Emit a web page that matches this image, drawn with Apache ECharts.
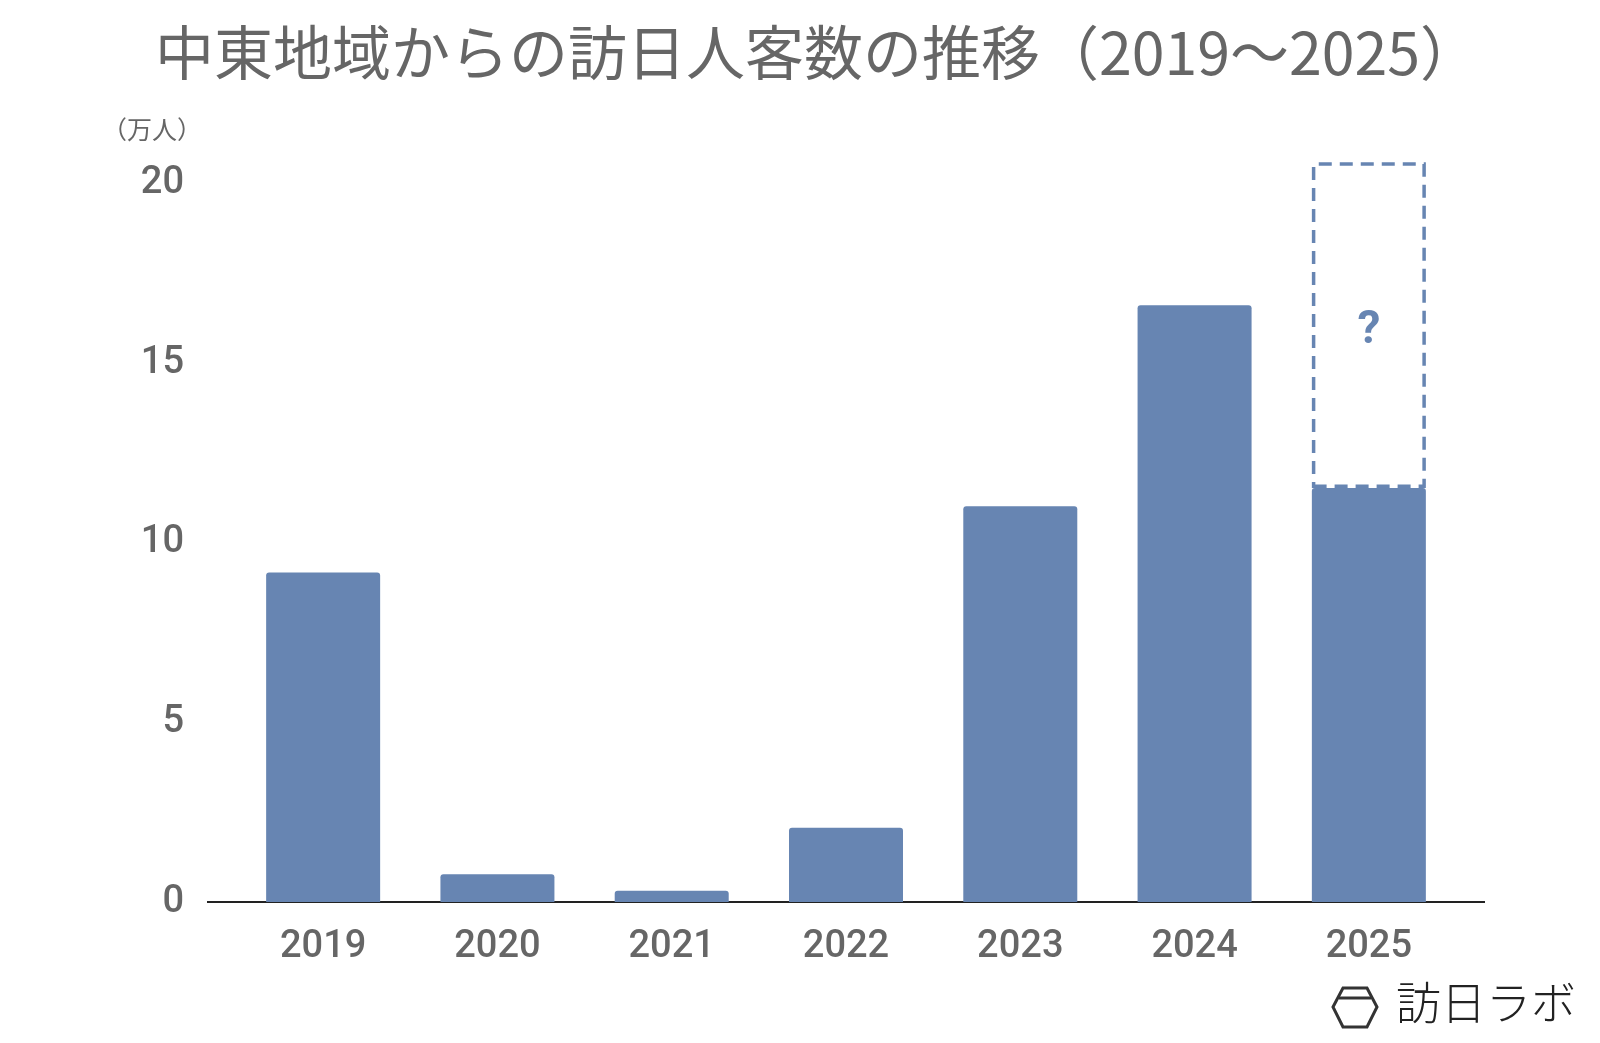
<!DOCTYPE html>
<html><head><meta charset="utf-8">
<script src="https://cdn.jsdelivr.net/npm/echarts@6/dist/echarts.min.js"></script>
<style>html,body{margin:0;background:#fff}#c{width:1600px;height:1043px}</style>
</head><body><div id="c"></div>
<script>
const categories = ['2019','2020','2021','2022','2023','2024','2025'];
const visitors = [9.18, 0.77, 0.31, 2.07, 11.02, 16.62, 11.53];
const unknownExtra = ['-','-','-','-','-','-', 9.07];
const yTicks = [0,5,10,15,20];
const font = '"Noto Sans CJK JP", "Noto Sans", sans-serif';
const numFont = 'Roboto, sans-serif';
const c = echarts.init(document.getElementById('c'));
c.setOption({
  backgroundColor:'#fff',
  title:{text:'中東地域からの訪日人客数の推移（2019～2025）',left:812,textAlign:'center',top:18,
    textStyle:{fontFamily:font,fontSize:59,fontWeight:'normal',color:'#666'}},
  grid:{left:236,right:144,top:148,bottom:141},
  xAxis:{type:'category',data:categories,axisTick:{show:false},axisLine:{show:false},
    axisLabel:{fontFamily:numFont,fontSize:38,fontWeight:500,color:'#666',margin:26}},
  yAxis:{type:'value',min:0,max:21,interval:5,splitLine:{show:false},
    name:'（万人）',nameLocation:'end',nameGap:6,
    nameTextStyle:{fontFamily:font,fontSize:25,color:'#666',align:'right',padding:[0,34,0,0]},
    axisLabel:{fontFamily:numFont,fontSize:38,fontWeight:500,color:'#666',margin:52,
      formatter:v=>yTicks.includes(v)?String(v):''}},
  series:[
    {type:'bar',stack:'a',data:visitors,barWidth:114,itemStyle:{color:'#6785b2',borderRadius:[3,3,0,0]}},
    {type:'bar',stack:'a',data:unknownExtra,barWidth:114,
      itemStyle:{color:'rgba(0,0,0,0)',borderColor:'#6785b2',borderWidth:3.5,borderType:[13,8]},
      label:{show:true,position:'inside',formatter:'?',fontSize:46,fontWeight:'bold',color:'#6785b2',fontFamily:numFont,offset:[0,6]}}
  ],
  graphic:[
    {type:'line',shape:{x1:207,y1:902,x2:1485,y2:902},style:{stroke:'#222',lineWidth:2}},
    {type:'polygon',shape:{points:[[1333,1007],[1343,988],[1367,988],[1377,1007],[1367,1027],[1343,1027]]},
      style:{fill:'none',stroke:'#333',lineWidth:3}},
    {type:'line',shape:{x1:1339,y1:998,x2:1371,y2:998},style:{stroke:'#333',lineWidth:3}},
    {type:'text',left:1396,top:980,style:{text:'訪日ラボ',fontFamily:font,fontSize:45,fontWeight:300,fill:'#222'}}
  ]
});
</script></body></html>
